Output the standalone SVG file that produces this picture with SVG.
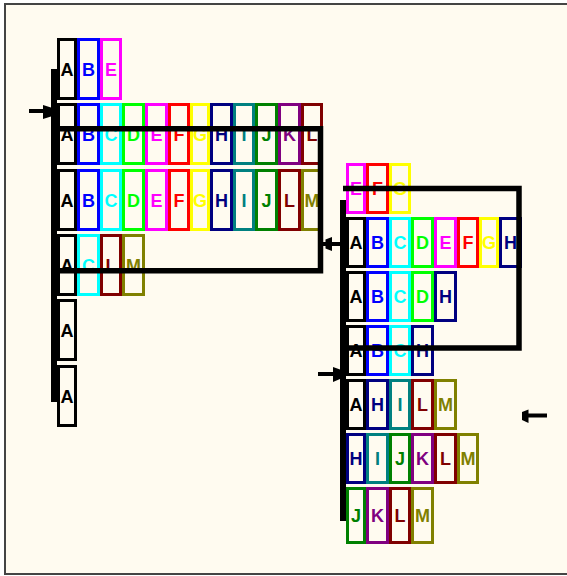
<svg xmlns="http://www.w3.org/2000/svg" width="567" height="576" viewBox="0 0 567 576">
<style>
.cell rect{fill:#fffbf0;stroke:currentColor;stroke-width:3}
.cell text{fill:currentColor;font-family:"Liberation Sans",Arial,sans-serif;font-weight:bold;font-size:18px;text-anchor:middle}
.A{color:#000000}.B{color:#0000ff}.C{color:#00ffff}.D{color:#00ff00}.E{color:#ff00ff}.F{color:#ff0000}.G{color:#ffff00}.H{color:#000080}.I{color:#008080}.J{color:#008000}.K{color:#800080}.L{color:#800000}.M{color:#808000}
.frame{fill:none;stroke:#000;stroke-width:5.5}
.bar{fill:#000}
.edge{stroke:#000;stroke-width:4;fill:none}
.head{fill:#000}
</style>
<rect x="0" y="0" width="567" height="576" fill="#ffffff"/>
<rect x="5" y="4" width="565" height="570" fill="#fffbf0" stroke="#444" stroke-width="2"/>

<g id="left-row1" class="cell">
<g class="A"><rect x="58.5" y="39.5" width="17" height="59"/><text x="67" y="75.5">A</text></g>
<g class="B"><rect x="78.5" y="39.5" width="20" height="59"/><text x="88.5" y="75.5">B</text></g>
<g class="E"><rect x="101.5" y="39.5" width="19" height="59"/><text x="111" y="75.5">E</text></g>
</g>
<g id="left-row2" class="cell">
<g class="A"><rect x="58.5" y="104.5" width="17" height="59"/><text x="67" y="140.5">A</text></g>
<g class="B"><rect x="78.5" y="104.5" width="20" height="59"/><text x="88.5" y="140.5">B</text></g>
<g class="C"><rect x="101.5" y="104.5" width="19" height="59"/><text x="111" y="140.5">C</text></g>
<g class="D"><rect x="123.5" y="104.5" width="20" height="59"/><text x="133.5" y="140.5">D</text></g>
<g class="E"><rect x="146.5" y="104.5" width="20" height="59"/><text x="156.5" y="140.5">E</text></g>
<g class="F"><rect x="169.5" y="104.5" width="19" height="59"/><text x="179" y="140.5">F</text></g>
<g class="G"><rect x="191.5" y="104.5" width="17" height="59"/><text x="200" y="140.5">G</text></g>
<g class="H"><rect x="211.5" y="104.5" width="20" height="59"/><text x="221.5" y="140.5">H</text></g>
<g class="I"><rect x="234.5" y="104.5" width="19" height="59"/><text x="244" y="140.5">I</text></g>
<g class="J"><rect x="256.5" y="104.5" width="20" height="59"/><text x="266.5" y="140.5">J</text></g>
<g class="K"><rect x="279.5" y="104.5" width="20" height="59"/><text x="289.5" y="140.5">K</text></g>
<g class="L"><rect x="302.5" y="104.5" width="19" height="59"/><text x="312" y="140.5">L</text></g>
</g>
<g id="left-row3" class="cell">
<g class="A"><rect x="58.5" y="170.5" width="17" height="59"/><text x="67" y="206.5">A</text></g>
<g class="B"><rect x="78.5" y="170.5" width="20" height="59"/><text x="88.5" y="206.5">B</text></g>
<g class="C"><rect x="101.5" y="170.5" width="19" height="59"/><text x="111" y="206.5">C</text></g>
<g class="D"><rect x="123.5" y="170.5" width="20" height="59"/><text x="133.5" y="206.5">D</text></g>
<g class="E"><rect x="146.5" y="170.5" width="20" height="59"/><text x="156.5" y="206.5">E</text></g>
<g class="F"><rect x="169.5" y="170.5" width="19" height="59"/><text x="179" y="206.5">F</text></g>
<g class="G"><rect x="191.5" y="170.5" width="17" height="59"/><text x="200" y="206.5">G</text></g>
<g class="H"><rect x="211.5" y="170.5" width="20" height="59"/><text x="221.5" y="206.5">H</text></g>
<g class="I"><rect x="234.5" y="170.5" width="19" height="59"/><text x="244" y="206.5">I</text></g>
<g class="J"><rect x="256.5" y="170.5" width="20" height="59"/><text x="266.5" y="206.5">J</text></g>
<g class="L"><rect x="279.5" y="170.5" width="20" height="59"/><text x="289.5" y="206.5">L</text></g>
<g class="M"><rect x="302.5" y="170.5" width="19" height="59"/><text x="312" y="206.5">M</text></g>
</g>
<g id="left-row4" class="cell">
<g class="A"><rect x="58.5" y="235.5" width="17" height="59"/><text x="67" y="271.5">A</text></g>
<g class="C"><rect x="78.5" y="235.5" width="20" height="59"/><text x="88.5" y="271.5">C</text></g>
<g class="L"><rect x="101.5" y="235.5" width="19" height="59"/><text x="111" y="271.5">L</text></g>
<g class="M"><rect x="123.5" y="235.5" width="20" height="59"/><text x="133.5" y="271.5">M</text></g>
</g>
<g id="left-row5" class="cell">
<g class="A"><rect x="58.5" y="300.5" width="17" height="59"/><text x="67" y="336.5">A</text></g>
</g>
<g id="left-row6" class="cell">
<g class="A"><rect x="58.5" y="366.5" width="17" height="59"/><text x="67" y="402.5">A</text></g>
</g>

<g id="right-row1" class="cell">
<g class="E"><rect x="347.5" y="164.5" width="17" height="48"/><text x="356" y="195">E</text></g>
<g class="F"><rect x="367.5" y="164.5" width="20" height="48"/><text x="377.5" y="195">F</text></g>
<g class="G"><rect x="390.5" y="164.5" width="19" height="48"/><text x="400" y="195">G</text></g>
</g>
<g id="right-row2" class="cell">
<g class="A"><rect x="347.5" y="218.5" width="17" height="48"/><text x="356" y="249">A</text></g>
<g class="B"><rect x="367.5" y="218.5" width="20" height="48"/><text x="377.5" y="249">B</text></g>
<g class="C"><rect x="390.5" y="218.5" width="19" height="48"/><text x="400" y="249">C</text></g>
<g class="D"><rect x="412.5" y="218.5" width="20" height="48"/><text x="422.5" y="249">D</text></g>
<g class="E"><rect x="435.5" y="218.5" width="20" height="48"/><text x="445.5" y="249">E</text></g>
<g class="F"><rect x="458.5" y="218.5" width="19" height="48"/><text x="468" y="249">F</text></g>
<g class="G"><rect x="480.5" y="218.5" width="17" height="48"/><text x="489" y="249">G</text></g>
<g class="H"><rect x="500.5" y="218.5" width="20" height="48"/><text x="510.5" y="249">H</text></g>
</g>
<g id="right-row3" class="cell">
<g class="A"><rect x="347.5" y="272.5" width="17" height="48"/><text x="356" y="303">A</text></g>
<g class="B"><rect x="367.5" y="272.5" width="20" height="48"/><text x="377.5" y="303">B</text></g>
<g class="C"><rect x="390.5" y="272.5" width="19" height="48"/><text x="400" y="303">C</text></g>
<g class="D"><rect x="412.5" y="272.5" width="20" height="48"/><text x="422.5" y="303">D</text></g>
<g class="H"><rect x="435.5" y="272.5" width="20" height="48"/><text x="445.5" y="303">H</text></g>
</g>
<g id="right-row4" class="cell">
<g class="A"><rect x="347.5" y="326.5" width="17" height="48"/><text x="356" y="357">A</text></g>
<g class="B"><rect x="367.5" y="326.5" width="20" height="48"/><text x="377.5" y="357">B</text></g>
<g class="C"><rect x="390.5" y="326.5" width="19" height="48"/><text x="400" y="357">C</text></g>
<g class="H"><rect x="412.5" y="326.5" width="20" height="48"/><text x="422.5" y="357">H</text></g>
</g>
<g id="right-row5" class="cell">
<g class="A"><rect x="347.5" y="380.5" width="17" height="48"/><text x="356" y="411">A</text></g>
<g class="H"><rect x="367.5" y="380.5" width="20" height="48"/><text x="377.5" y="411">H</text></g>
<g class="I"><rect x="390.5" y="380.5" width="19" height="48"/><text x="400" y="411">I</text></g>
<g class="L"><rect x="412.5" y="380.5" width="20" height="48"/><text x="422.5" y="411">L</text></g>
<g class="M"><rect x="435.5" y="380.5" width="20" height="48"/><text x="445.5" y="411">M</text></g>
</g>
<g id="right-row6" class="cell">
<g class="H"><rect x="347.5" y="434.5" width="17" height="48"/><text x="356" y="465">H</text></g>
<g class="I"><rect x="367.5" y="434.5" width="20" height="48"/><text x="377.5" y="465">I</text></g>
<g class="J"><rect x="390.5" y="434.5" width="19" height="48"/><text x="400" y="465">J</text></g>
<g class="K"><rect x="412.5" y="434.5" width="20" height="48"/><text x="422.5" y="465">K</text></g>
<g class="L"><rect x="435.5" y="434.5" width="20" height="48"/><text x="445.5" y="465">L</text></g>
<g class="M"><rect x="458.5" y="434.5" width="19" height="48"/><text x="468" y="465">M</text></g>
</g>
<g id="right-row7" class="cell">
<g class="J"><rect x="347.5" y="488.5" width="17" height="54"/><text x="356" y="522">J</text></g>
<g class="K"><rect x="367.5" y="488.5" width="20" height="54"/><text x="377.5" y="522">K</text></g>
<g class="L"><rect x="390.5" y="488.5" width="19" height="54"/><text x="400" y="522">L</text></g>
<g class="M"><rect x="412.5" y="488.5" width="20" height="54"/><text x="422.5" y="522">M</text></g>
</g>

<g id="frames">
<path class="frame" d="M51,128.8 H320.5 V270.7 H51"/>
<path class="frame" d="M343,188.5 H519 V348 H343"/>
<rect class="bar" x="51" y="69" width="6" height="333"/>
<rect class="bar" x="340" y="200" width="6" height="321"/>
</g>

<g id="connectors">
<line class="edge" x1="29" y1="111" x2="44" y2="111"/>
<path class="head" d="M43,105 L51,107.5 L51,116.5 L43,119 Z"/>
<line class="edge" x1="331" y1="244" x2="340" y2="244"/>
<line class="edge" x1="323" y1="244" x2="327" y2="244"/>
<path class="head" d="M332,237 L325.5,239.5 L325.5,248.5 L332,251 Z"/>
<line class="edge" x1="318" y1="374" x2="334" y2="374"/>
<path class="head" d="M333,367 L340,369.5 L340,379 L333,382 Z"/>
<line class="edge" x1="527" y1="415.5" x2="547" y2="415.5"/>
<path class="head" d="M528.5,409.5 L522,412 L522,420 L528.5,423 Z"/>
</g>
</svg>
